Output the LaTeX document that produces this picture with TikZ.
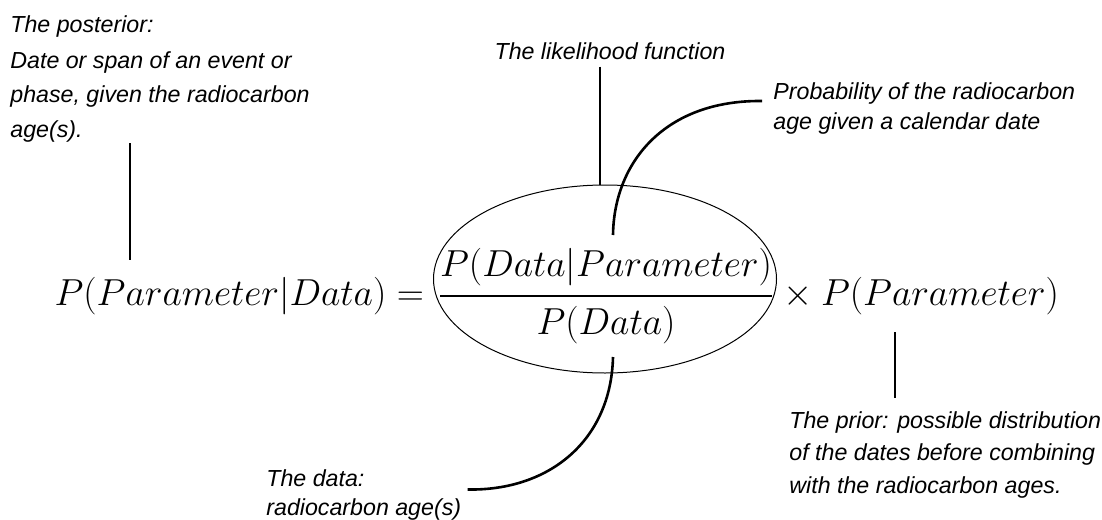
\RequirePackage{fix-cm}
\documentclass[tikz,border=0pt]{standalone}
\usepackage{amsmath}
\usepackage{fontspec}
\setmainfont{Liberation Sans}
\usepackage{tikz}
\usetikzlibrary{positioning, shapes.geometric}

\begin{document}
\begin{tikzpicture}
    [x=0.5pt, y=-0.5pt,
     note/.style={font=\fontsize{11.6}{#1}\selectfont\itshape, align=left, inner sep=0},
     note/.default=14.5,
     eqn/.style={font=\fontsize{18.8}{23}\selectfont, inner sep=0},
     link/.style={line width=1.3pt}]
    \useasboundingbox (0,0) rectangle (1102,519);

    % the formula
    \node[eqn] (frac) at (606,296) {$\displaystyle\genfrac{}{}{1.4pt}{0}{P(Data|Parameter)}{P(Data)}$};
    \node[eqn, anchor=base east] (lhs) at ([xshift=-6.5pt]frac.base west) {$P(Parameter|Data)=$};
    \node[eqn, anchor=base west] (rhs) at (frac.base east) {${}\times{}P(Parameter)$};
    \node[draw, ellipse, line width=0.5pt, minimum width=171.5pt, minimum height=94pt] (lik) at (605,279) {};

    % the notes (base = last line)
    \node[note=17.5, anchor=base west] (post) at (10,138)
        {The posterior:\\Date or span of an event or\\phase, given the radiocarbon\\age(s).};
    \node[note, anchor=base] (likt) at (610,60) {The likelihood function};
    \node[note, anchor=base west] (prob) at (773,129)
        {Probability of the radiocarbon\\age given a calendar date};
    \node[note, anchor=base west] (data) at (266,515) {The data:\\radiocarbon age(s)};
    \node[note=16.25, anchor=base west] (prior) at (789,493)
        {The prior: possible distribution\\of the dates before combining\\with the radiocarbon ages.};

    \coordinate (postbot) at (130,260);
    \coordinate (numtop) at (613,235);
    \coordinate (denbot) at (613,357);
    \coordinate (priortop) at (895,332);

    \draw[link] (postbot |- post.south) -- (postbot);
    \draw[link, shorten <=3pt] ([xshift=-5pt]likt.south) -- ([xshift=-5pt]likt.south |- lik.north);
    \draw[link] (numtop) .. controls (614,162) and (665,100) .. ([shift={(-5.5pt,14pt)}]prob.base west);
    \draw[link] (denbot) .. controls (611,440) and (550,491) .. ([shift={(3pt,2.5pt)}]data.east);
    \draw[link, shorten >=6.5pt] (priortop) -- (priortop |- prior.north);
\end{tikzpicture}
\end{document}
